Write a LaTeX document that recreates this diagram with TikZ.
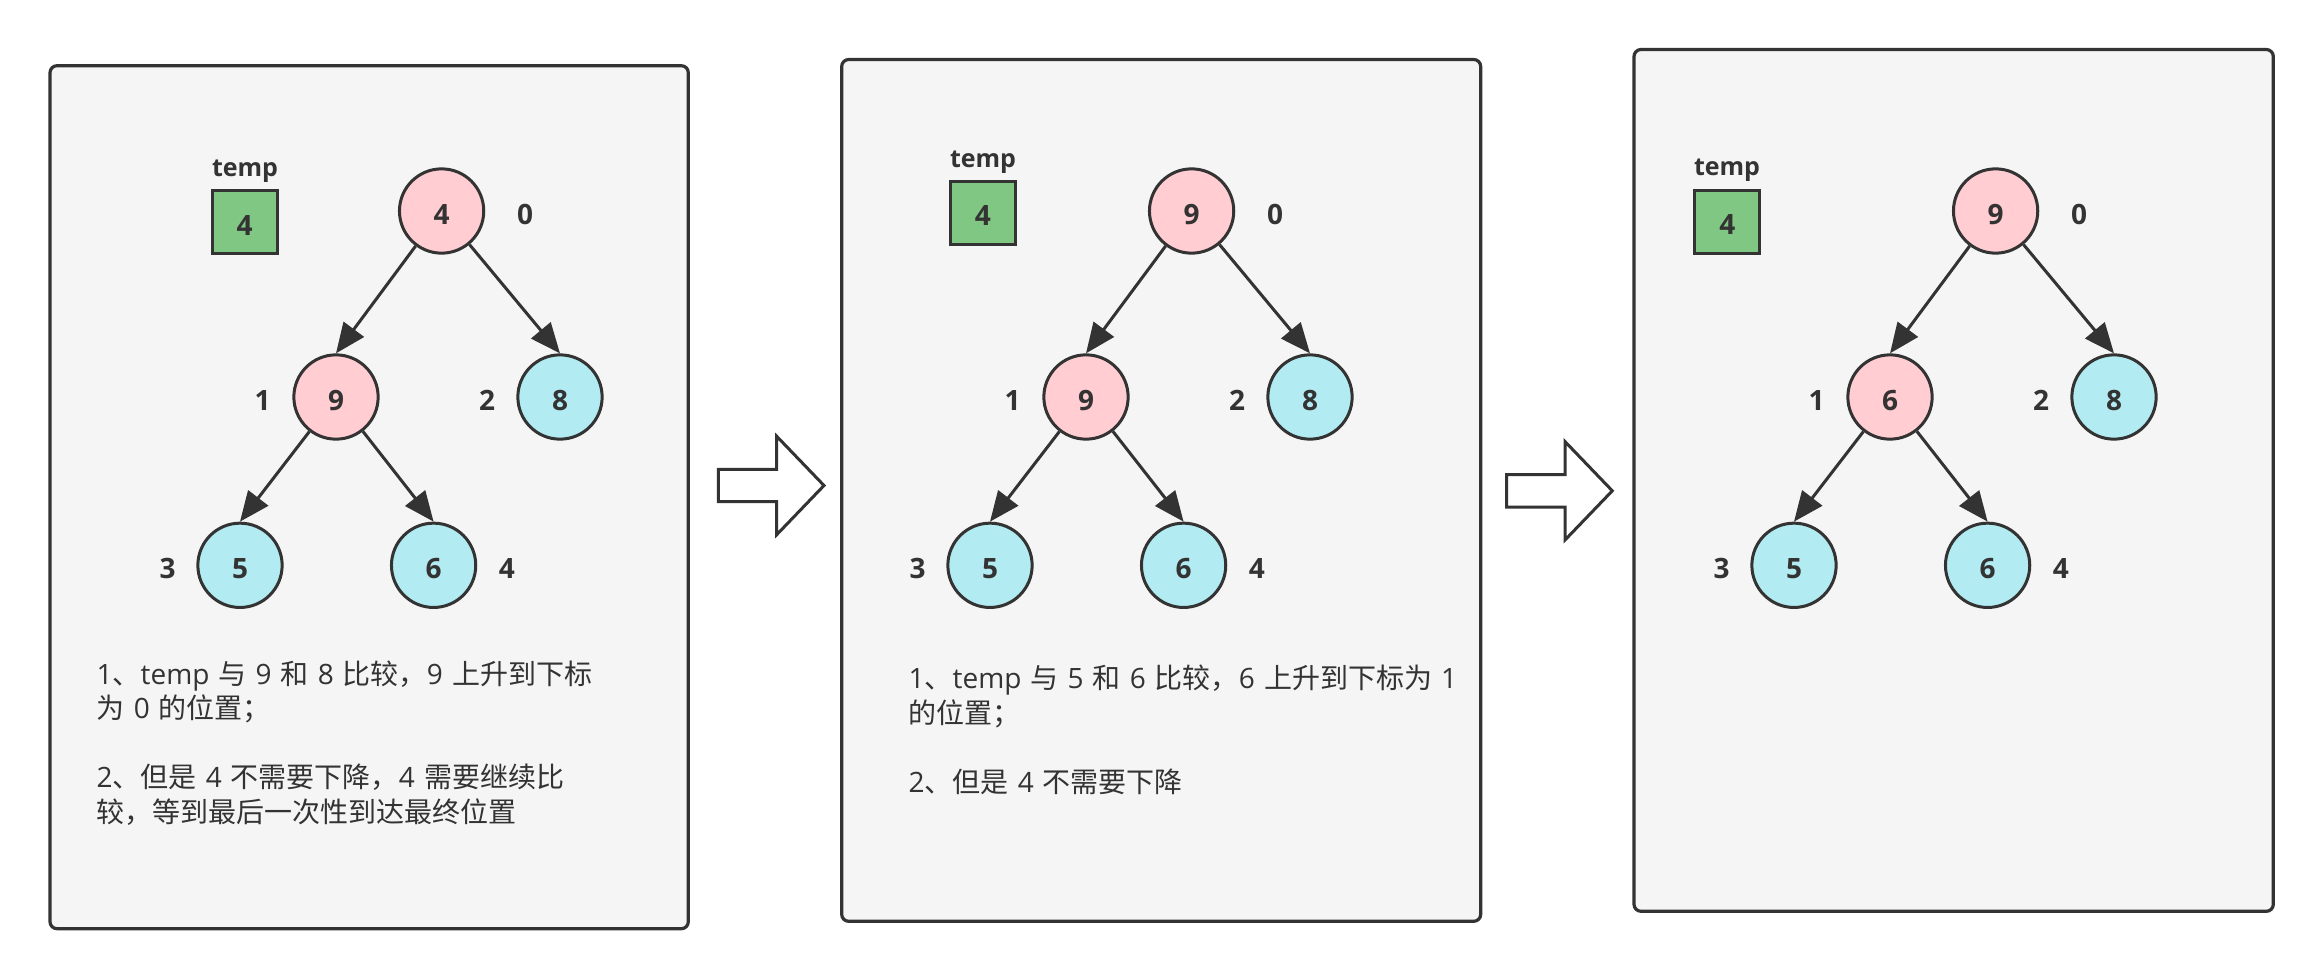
\documentclass[tikz,border=0pt]{standalone}
\usepackage{fontspec}
\setmainfont{Open Sans}[WordSpace=1.25]
\newfontfamily\cjkfont{Noto Sans CJK SC}
\newcommand\zh[1]{{\cjkfont #1}}
\usetikzlibrary{arrows.meta}
\definecolor{ink}{HTML}{333333}
\definecolor{panelbg}{HTML}{F5F5F5}
\definecolor{pinkfill}{HTML}{FFCDD2}
\definecolor{bluefill}{HTML}{B2EBF2}
\definecolor{greenfill}{HTML}{81C784}
\newcommand\heaptree[3]{%
  \node[pinkc] (#1r) at (441.6,211) {#2};
  \node[pinkc] (#1a) at (336,397) {#3};
  \node[bluec] (#1b) at (560,397) {8};
  \node[bluec] (#1c) at (240,565.3) {5};
  \node[bluec] (#1d) at (433.6,565.3) {6};
  \node[idx] (#1i0) at (525,211) {0};
  \node[idx] (#1i1) at (262.5,397) {1};
  \node[idx] (#1i2) at (487,397) {2};
  \node[idx] (#1i3) at (167.5,565.3) {3};
  \node[idx] (#1i4) at (506.8,565.3) {4};
  \draw[treeedge] (#1r) -- (#1a.north);
  \draw[treeedge] (#1r) -- (#1b.north);
  \draw[treeedge] (#1a) -- (#1c.north);
  \draw[treeedge] (#1a) -- (#1d.north);
}
\begin{document}
\begin{tikzpicture}[x=1pt,y=-1pt,
  panel/.style={draw=ink, line width=3.2pt, fill=panelbg, rounded corners=7pt},
  heapnode/.style={circle, draw=ink, line width=3pt, minimum size=84.3pt, inner sep=0pt,
    font=\bfseries\fontsize{28}{28}\selectfont, text=ink, text height=26pt, text depth=0pt},
  pinkc/.style={heapnode, fill=pinkfill},
  bluec/.style={heapnode, fill=bluefill},
  idx/.style={inner sep=0pt, font=\bfseries\fontsize{28}{28}\selectfont, text=ink,
    text height=26pt, text depth=0pt},
  tempbox/.style={draw=ink, line width=3.2pt, fill=greenfill, minimum width=65pt,
    minimum height=63pt, inner sep=0pt, font=\bfseries\fontsize{28}{28}\selectfont,
    text=ink, text height=26pt, text depth=0pt},
  templabel/.style={anchor=base, inner sep=0pt, font=\bfseries\fontsize{25}{25}\selectfont, text=ink},
  treeedge/.style={draw=ink, line width=3pt, -{Triangle[length=30pt,width=25pt]}},
  bodytext/.style={anchor=base west, inner sep=0pt, font=\fontsize{28}{34}\selectfont, text=ink},
  blockarrow/.style={draw=ink, line width=3pt, fill=white}
]
\useasboundingbox (0,0) rectangle (2324,978);
\fill[white] (0,0) rectangle (2324,978);

% panels
\draw[panel] (50,65.7) rectangle (688.3,928.7);
\draw[panel] (841.7,59.5) rectangle (1480.7,921.3);
\draw[panel] (1634,49.5) rectangle (2273.3,911.3);

% block arrows
\draw[blockarrow] (718.3,469.3) -- (776.7,469.3) -- (776.7,436.3) -- (824,485.5)
  -- (776.7,534.7) -- (776.7,501.7) -- (718.3,501.7) -- cycle;
\draw[blockarrow] (1506.6,474.6) -- (1565,474.6) -- (1565,441.6) -- (1612.3,490.8)
  -- (1565,540) -- (1565,507) -- (1506.6,507) -- cycle;

% panel 1
\node[templabel] (pAtl) at (245,176.7) {temp};
\node[tempbox] (pAtb) at (244.7,222) {4};
\heaptree{pA}{4}{9}
\node[bodytext] (pAl1) at (96.5,684) {1\zh{、}temp \zh{与} 9 \zh{和} 8 \zh{比较，}9 \zh{上升到下标}};
\node[bodytext] (pAl2) at (96.5,718.5) {\zh{为} 0 \zh{的位置；}};
\node[bodytext] (pAl3) at (96.5,787.5) {2\zh{、但是} 4 \zh{不需要下降，}4 \zh{需要继续比}};
\node[bodytext] (pAl4) at (96.5,822) {\zh{较，等到最后一次性到达最终位置}};

% panel 2
\node[templabel] (pBtl) at (983,167) {temp};
\node[tempbox] (pBtb) at (982.8,212.6) {4};
\begin{scope}[xshift=750pt]
\heaptree{pB}{9}{9}
\end{scope}
\node[bodytext] (pBl1) at (908.5,688.7) {1\zh{、}temp \zh{与} 5 \zh{和} 6 \zh{比较，}6 \zh{上升到下标为} 1};
\node[bodytext] (pBl2) at (908.5,723) {\zh{的位置；}};
\node[bodytext] (pBl3) at (908.5,792) {2\zh{、但是} 4 \zh{不需要下降}};

% panel 3
\node[templabel] (pCtl) at (1727,175.7) {temp};
\node[tempbox] (pCtb) at (1727.3,221.6) {4};
\begin{scope}[xshift=1554pt]
\heaptree{pC}{9}{6}
\end{scope}
\end{tikzpicture}
\end{document}
